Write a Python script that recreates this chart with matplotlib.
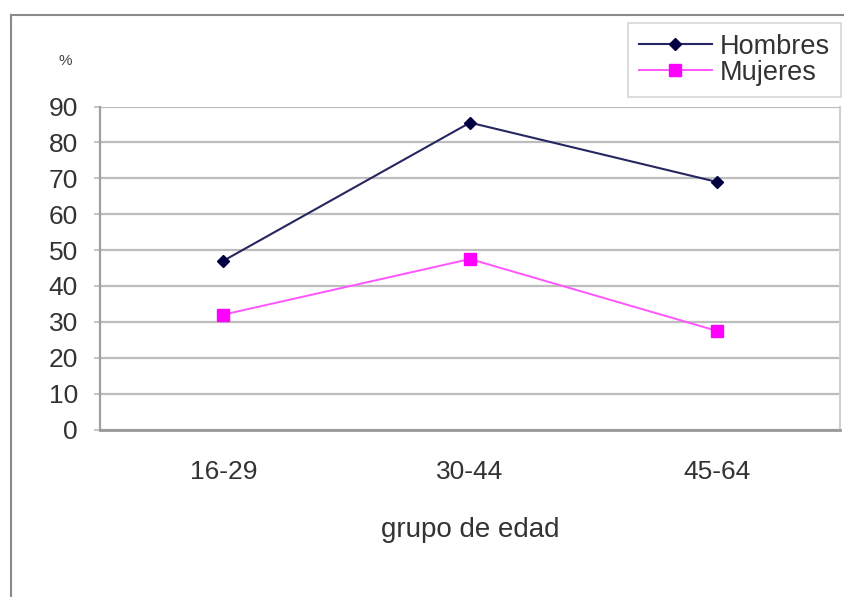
import matplotlib
matplotlib.use("Agg")
import matplotlib.pyplot as plt
from matplotlib.lines import Line2D

plt.rcParams['font.family'] = ['Liberation Sans', 'DejaVu Sans']

categories = ["16-29", "30-44", "45-64"]
hombres = [47, 85.5, 69]
mujeres = [32, 47.5, 27.5]
y_ticks = [0, 10, 20, 30, 40, 50, 60, 70, 80, 90]

W, H = 845, 597
fig = plt.figure(figsize=(W / 100, H / 100), dpi=100)

# outer chart frame (only top and left edges visible)
fig.add_artist(Line2D([11 / W, 11 / W], [0, 1 - 15 / H], color="#8a8a8a", lw=1.5,
                      transform=fig.transFigure))
fig.add_artist(Line2D([11 / W, 843 / W], [1 - 15 / H, 1 - 15 / H], color="#8a8a8a", lw=1.5,
                      transform=fig.transFigure))

left, right, top, bottom = 100, 840, 106.5, 429.5
ax = fig.add_axes([left / W, 1 - bottom / H, (right - left) / W, (bottom - top) / H])

x = range(len(categories))
ax.plot(x, hombres, color="#262660", lw=1.5, marker="D", ms=6, mfc="#000040", mec="#000040",
        label="Hombres", zorder=3)
ax.plot(x, mujeres, color="#ff55ff", lw=1.4, marker="s", ms=8, mfc="#ff00ff", mec="#ff00ff",
        label="Mujeres", zorder=3)

ax.set_xlim(-0.5, 2.5)
ax.set_ylim(0, 90)
ax.set_yticks(y_ticks)
ax.set_xticks(list(x))
ax.set_xticklabels(categories)
ax.yaxis.grid(True, color="#bdbdbd", lw=1.6)
ax.set_axisbelow(True)

ax.spines["top"].set_visible(False)
ax.spines["left"].set_color("#a0a0a0")
ax.spines["left"].set_linewidth(1.6)
ax.spines["bottom"].set_color("#999999")
ax.spines["bottom"].set_linewidth(2.0)
ax.spines["right"].set_color("#d0d0d0")
ax.spines["right"].set_linewidth(1.5)

ax.tick_params(axis="y", labelsize=19, labelcolor="#333333", color="#bbbbbb",
               length=4, width=1.2, pad=12)
ax.tick_params(axis="x", labelsize=19, labelcolor="#333333", length=0, pad=22)

ax.set_xlabel("grupo de edad", fontsize=20, color="#333333", labelpad=24)
fig.text(65 / W, 1 - 61 / H, "%", fontsize=11, color="#444444", ha="center", va="center")

leg = ax.legend(loc="upper right",
                bbox_to_anchor=((841 - left) / (right - left), (bottom - 23) / (bottom - top)),
                fontsize=19.5, frameon=True, fancybox=False, edgecolor="#cccccc",
                borderpad=0.4, labelspacing=0.0, handlelength=2.7, handletextpad=0.3,
                borderaxespad=0)
leg.get_frame().set_linewidth(1.2)
for t in leg.get_texts():
    t.set_color("#333333")

fig.savefig("out.png", dpi=100, facecolor="white")
